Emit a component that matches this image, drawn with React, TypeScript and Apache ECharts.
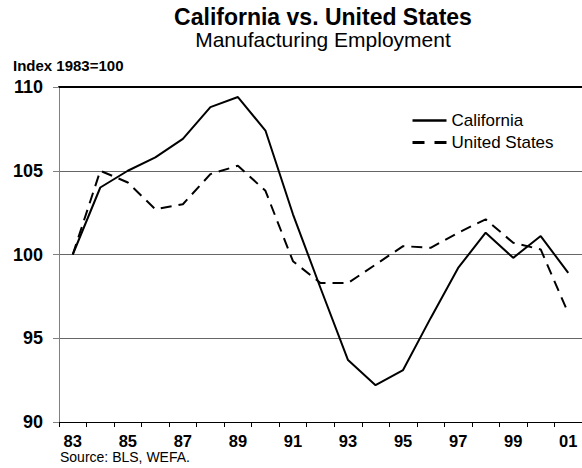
import React, { useEffect, useRef } from 'react';
import * as echarts from 'echarts';

const years = ['83', '84', '85', '86', '87', '88', '89', '90', '91', '92', '93', '94', '95', '96', '97', '98', '99', '00', '01'];
const california = [100, 104.0, 105.0, 105.8, 106.9, 108.8, 109.4, 107.4, 102.4, 98.0, 93.7, 92.2, 93.1, 96.2, 99.2, 101.3, 99.8, 101.1, 98.9];
const unitedStates = [100, 105.0, 104.3, 102.7, 103.0, 104.8, 105.3, 103.8, 99.6, 98.3, 98.3, 99.4, 100.5, 100.4, 101.3, 102.1, 100.7, 100.3, 96.5];

const FONT = '"Liberation Sans", Arial, sans-serif';

export default function App() {
  const ref = useRef<HTMLDivElement>(null);
  useEffect(() => {
    if (!ref.current) return;
    const chart = echarts.init(ref.current, undefined, { renderer: 'svg' });
    chart.setOption({
      animation: false,
      backgroundColor: '#fff',
      title: [
        {
          text: 'California vs. United States',
          left: 323,
          top: 5,
          textAlign: 'center',
          padding: 0,
          textStyle: { fontFamily: FONT, fontSize: 23, fontWeight: 'bold', color: '#000' },
        },
        {
          text: 'Manufacturing Employment',
          left: 323,
          top: 29,
          textAlign: 'center',
          padding: 0,
          textStyle: { fontFamily: FONT, fontSize: 21, fontWeight: 'normal', color: '#000' },
        },
        {
          text: 'Index 1983=100',
          left: 13,
          top: 58,
          padding: 0,
          textStyle: { fontFamily: FONT, fontSize: 15, fontWeight: 'bold', color: '#000' },
        },
        {
          text: 'Source: BLS, WEFA.',
          left: 60,
          top: 450,
          padding: 0,
          textStyle: { fontFamily: FONT, fontSize: 14, fontWeight: 'normal', color: '#000' },
        },
      ],
      legend: {
        orient: 'vertical',
        left: 411,
        top: 112,
        padding: 0,
        itemWidth: 34,
        itemHeight: 14,
        itemGap: 5,
        itemStyle: { color: 'rgba(0,0,0,0)', borderWidth: 0, opacity: 0 },
        textStyle: { fontFamily: FONT, fontSize: 17, color: '#000' },
        data: [
          { name: 'California', lineStyle: { width: 2.5 } },
          { name: 'United States', lineStyle: { width: 3, type: [12, 10] } },
        ],
      },
      grid: { left: 59, top: 87, right: -6, bottom: 46, containLabel: false },
      xAxis: [
        {
          type: 'category',
          data: years,
          boundaryGap: true,
          axisLine: { show: true, lineStyle: { color: '#000', width: 1 } },
          axisTick: { show: true, interval: 0, length: 5, inside: false, lineStyle: { color: '#000' } },
          axisLabel: {
            interval: 1,
            margin: 10,
            fontFamily: FONT,
            fontSize: 16.5,
            fontWeight: 'bold',
            color: '#000',
          },
          splitLine: { show: false },
        },
        {
          type: 'category',
          data: years,
          position: 'top',
          axisLine: { show: true, lineStyle: { color: '#000', width: 2 } },
          axisTick: { show: false },
          axisLabel: { show: false },
          splitLine: { show: false },
        },
      ],
      yAxis: {
        type: 'value',
        min: 90,
        max: 110,
        interval: 5,
        axisLine: { show: true, lineStyle: { color: '#808080', width: 1 } },
        axisTick: { show: true, length: 6, lineStyle: { color: '#808080' } },
        axisLabel: {
          margin: 16,
          fontFamily: FONT,
          fontSize: 18,
          fontWeight: 'bold',
          color: '#000',
        },
        splitLine: { show: true, lineStyle: { color: '#666', width: 1 } },
      },
      series: [
        {
          name: 'California',
          type: 'line',
          data: california,
          symbol: 'none',
          lineStyle: { color: '#000', width: 2, type: 'solid' },
          itemStyle: { color: '#000' },
        },
        {
          name: 'United States',
          type: 'line',
          data: unitedStates,
          symbol: 'none',
          lineStyle: { color: '#000', width: 2, type: [11, 7] },
          itemStyle: { color: '#000' },
        },
      ],
    });
    return () => chart.dispose();
  }, []);
  return <div ref={ref} style={{ width: 582, height: 468, position: 'absolute', left: 0, top: 0 }} />;
}
